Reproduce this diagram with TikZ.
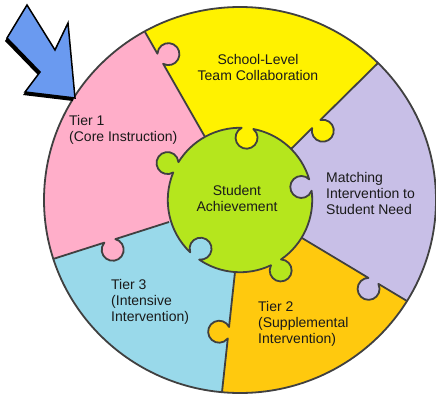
\documentclass[tikz,border=0pt]{standalone}
\usepackage{fontspec}
\setmainfont{Liberation Sans}
\usetikzlibrary{calc}
\definecolor{cpink}{HTML}{FFAEC9}
\definecolor{cyellow}{HTML}{FFF200}
\definecolor{cpurple}{HTML}{C8BFE7}
\definecolor{corange}{HTML}{FFC90E}
\definecolor{cblue}{HTML}{99D9EA}
\definecolor{cgreen}{HTML}{B5E61D}
\definecolor{cedge}{HTML}{404040}
\definecolor{carrow}{HTML}{6A9AF0}
\definecolor{ctext}{HTML}{1A1A1A}
\pgfmathsetmacro\kr{11}
\pgfmathsetmacro\kg{acos(0.85)}
\pgfmathsetmacro\kd{0.85*\kr}
\pgfmathsetmacro\ks{\kr*sin(\kg)}
\pgfmathsetmacro\gd{atan(\ks/72)}
\pgfmathsetmacro\Rp{veclen(72,\ks)}
\pgfmathsetmacro\kdel{360-2*\kg}
% radial boundary with a knob: ax ay bx by t side parentcolour
\newcommand\kline[7]{%
  \pgfmathsetmacro\kdx{#3-#1}%
  \pgfmathsetmacro\kdy{#4-#2}%
  \pgfmathsetmacro\kL{veclen(\kdx,\kdy)}%
  \pgfmathsetmacro\kux{\kdx/\kL}%
  \pgfmathsetmacro\kuy{\kdy/\kL}%
  \pgfmathsetmacro\knx{-(#6)*\kuy}%
  \pgfmathsetmacro\kny{(#6)*\kux}%
  \pgfmathsetmacro\kcx{#1+(#5)*\kdx+\kd*\knx}%
  \pgfmathsetmacro\kcy{#2+(#5)*\kdy+\kd*\kny}%
  \pgfmathsetmacro\kbeta{atan2(-\kny,-\knx)}%
  \pgfmathsetmacro\kst{\kbeta-(#6)*\kg}%
  \pgfmathsetmacro\kde{-(#6)*\kdel}%
  \fill[#7] (\kcx,\kcy) circle[radius=\kr];
  \draw[edge] (#1,#2) -- ($(\kcx,\kcy)+(\kst:\kr)$) arc[start angle=\kst, delta angle=\kde, radius=\kr] -- (#3,#4);
}
\begin{document}
\begin{tikzpicture}[x=1pt,y=-1pt,
  edge/.style={draw=cedge, line width=1.8pt, line join=round},
  lbl/.style={font=\fontsize{14}{16}\selectfont, text=ctext, inner sep=0pt}]
\useasboundingbox (0,0) rectangle (436,396);
\fill[white] (0,0) rectangle (436,396);
\coordinate (O) at (240,200);
\coordinate (A1) at (205,137); \coordinate (B1) at (145,32);
\coordinate (A2) at (291,149); \coordinate (B2) at (378,63);
\coordinate (A3) at (302,238); \coordinate (B3) at (407,301);
\coordinate (A4) at (235,272); \coordinate (B4) at (222,392);
\coordinate (A5) at (169,222); \coordinate (B5) at (53,259);
\foreach \i in {1,...,5}{\coordinate (E\i) at ($(O)!1.6!(B\i)$);}
% sectors
\begin{scope}
\clip (O) ellipse[x radius=196, y radius=193];
\fill[cpink] (O) -- (A5) -- (B5) -- (E5) -- (E1) -- (B1) -- (A1) -- cycle;
\fill[cyellow] (O) -- (A1) -- (B1) -- (E1) -- (E2) -- (B2) -- (A2) -- cycle;
\fill[cpurple] (O) -- (A2) -- (B2) -- (E2) -- (E3) -- (B3) -- (A3) -- cycle;
\fill[corange] (O) -- (A3) -- (B3) -- (E3) -- (E4) -- (B4) -- (A4) -- cycle;
\fill[cblue] (O) -- (A4) -- (B4) -- (E4) -- (E5) -- (B5) -- (A5) -- cycle;
\end{scope}
% radial boundaries with knobs
\kline{205}{137}{145}{32}{0.745}{1}{cpink}
\kline{291}{149}{378}{63}{0.29}{1}{cyellow}
\kline{302}{238}{407}{301}{0.68}{1}{cpurple}
\kline{235}{272}{222}{392}{0.506}{1}{corange}
\kline{169}{222}{53}{259}{0.51}{-1}{cpink}
% centre piece
\filldraw[fill=cgreen, edge] ($(O)+(-84-\gd:\Rp)$)
  arc[start angle=-84-\kg, delta angle=-\kdel, radius=\kr]
  arc[start angle=-84+\gd, end angle=-12-\gd, radius=\Rp]
  arc[start angle=-12-\kg, delta angle=-\kdel, radius=\kr]
  arc[start angle=-12+\gd, end angle=60-\gd, radius=\Rp]
  arc[start angle=240+\kg, delta angle=\kdel, radius=\kr]
  arc[start angle=60+\gd, end angle=129-\gd, radius=\Rp]
  arc[start angle=129-\kg, delta angle=-\kdel, radius=\kr]
  arc[start angle=129+\gd, end angle=207-\gd, radius=\Rp]
  arc[start angle=27+\kg, delta angle=\kdel, radius=\kr]
  arc[start angle=207+\gd, end angle=276-\gd, radius=\Rp]
  -- cycle;
\draw[edge] (O) ellipse[x radius=196, y radius=193];
% labels
\node[lbl, anchor=west, align=left] (t1) at (69,130) {Tier 1\\(Core Instruction)};
\node[lbl, align=center] (team) at (258,67) {School-Level\\Team Collaboration};
\node[lbl, anchor=west, align=left] (match) at (326,193) {Matching\\Intervention to\\Student Need};
\node[lbl, align=center] (ach) at (237,198) {Student\\Achievement};
\node[lbl, anchor=west, align=left] (t2) at (258,323.5) {Tier 2\\(Supplemental\\Intervention)};
\node[lbl, anchor=west, align=left] (t3) at (111,302) {Tier 3\\(Intensive\\Intervention)};
% arrow
\begin{scope}[shift={(-2,3)}]
\fill[black] (27,5) -- (7,38) -- (40,72) -- (25,92) -- (75,98) -- (68,23) -- (55,50) -- cycle;
\end{scope}
\filldraw[fill=carrow, draw=black, line width=1.5pt, line join=miter] (27,5) -- (7,38) -- (40,72) -- (25,92) -- (75,98) -- (68,23) -- (55,50) -- cycle;
\end{tikzpicture}
\end{document}
